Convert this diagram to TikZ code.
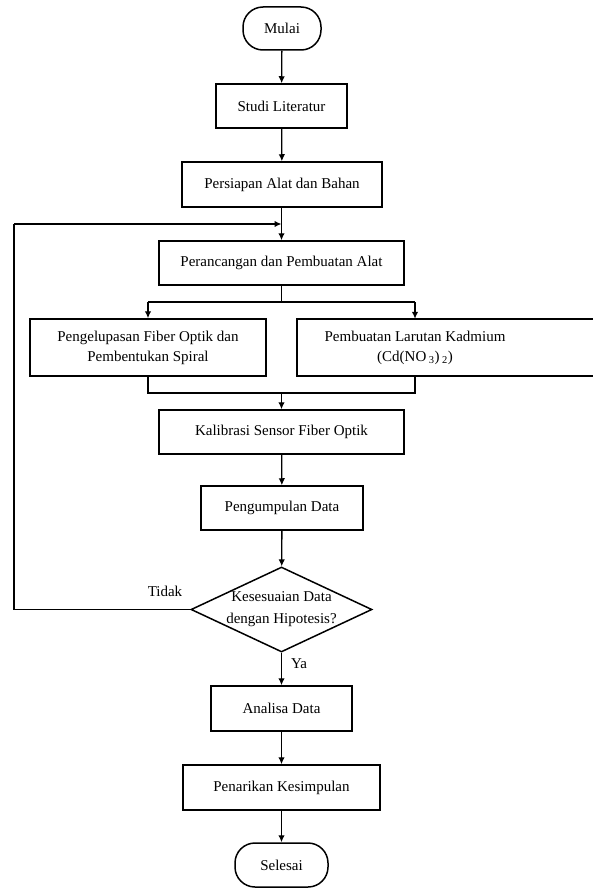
\documentclass[tikz,border=0pt]{standalone}
\usepackage{fontspec}
\setmainfont{Liberation Serif}
\usetikzlibrary{shapes.geometric,arrows.meta,positioning}
\begin{document}
\begin{tikzpicture}[x=1pt,y=-1pt,
  font=\fontsize{15}{20}\selectfont,
  box/.style={draw, line width=1.5pt, rectangle, inner sep=0pt, align=center},
  term/.style={draw, line width=1.5pt, rectangle, rounded corners=20pt, inner sep=0pt, align=center},
  dec/.style={draw, line width=1.5pt, diamond, shape aspect=2.13, inner sep=-1.5pt, align=center, minimum width=181pt, minimum height=85pt},
  conn/.style={line width=1.3pt},
  arr/.style={line width=1.3pt, -{Latex[length=7pt,width=6.5pt]}}
]
\useasboundingbox (0,0) rectangle (592,888);
\node[term, minimum width=78pt, minimum height=43pt] (mulai) at (282,28.5) {Mulai};
\node[box, minimum width=131pt, minimum height=44pt] (studi) at (281.5,106) {Studi Literatur};
\node[box, minimum width=200pt, minimum height=45pt] (persiapan) at (282,184.5) {Persiapan Alat dan Bahan};
\node[box, minimum width=245pt, minimum height=44pt] (rancang) at (281.5,263) {Perancangan dan Pembuatan Alat};
\node[box, minimum width=236pt, minimum height=57pt] (kupas) at (148,347.5) {Pengelupasan Fiber Optik dan\\Pembentukan Spiral};
\node[draw, line width=1.5pt, rectangle, inner sep=0pt, minimum width=303pt, minimum height=57pt] (kadbox) at (448.5,347.5) {};
\node[inner sep=0pt, minimum width=236pt, minimum height=57pt, align=center] (kadmium) at (415,347.5) {Pembuatan Larutan Kadmium\\(Cd(NO\,\textsubscript{3})\,\textsubscript{2})};
\node[box, minimum width=245pt, minimum height=44pt] (kalib) at (281.5,432) {Kalibrasi Sensor Fiber Optik};
\node[box, minimum width=162pt, minimum height=44pt] (kumpul) at (282,508) {Pengumpulan Data};
\node[dec, font=\fontsize{15}{22}\selectfont] (cek) at (281.5,609.5) {Kesesuaian Data\\dengan Hipotesis?};
\node[box, minimum width=141pt, minimum height=45pt] (analisa) at (281.5,708.5) {Analisa Data};
\node[box, minimum width=197pt, minimum height=45pt] (tarik) at (281.5,787.5) {Penarikan Kesimpulan};
\node[term, minimum width=93pt, minimum height=44pt] (selesai) at (281.5,865) {Selesai};

\coordinate (loopin) at (281.5,224);
\coordinate (loopL) at (14,224);
\coordinate (loopB) at (14,609.5);
\coordinate (split) at (281.5,302);
\coordinate (splitL) at (148,302);
\coordinate (splitR) at (415,302);
\coordinate (mergeL) at (148,393);
\coordinate (mergeR) at (415,393);
\coordinate (merge) at (281.5,393);

\draw[arr] (mulai) -- (studi);
\draw[arr] (studi) -- (persiapan);
\draw[arr] (persiapan.south -| rancang.north) -- (rancang.north);
\draw[conn] (cek.west) -- (loopB) -- (loopL);
\draw[arr] (loopL) -- (loopin);
\node (tidak) at (165,591) {Tidak};
\draw[conn] (rancang.south) -- (split);
\draw[conn] (splitL) -- (splitR);
\draw[arr] (splitL) -- (kupas.north);
\draw[arr] (splitR) -- (kadmium.north);
\draw[conn] (kupas.south) -- (mergeL) -- (mergeR) -- (kadmium.south);
\draw[arr] (merge) -- (kalib.north);
\draw[arr] (kalib) -- (kumpul);
\draw[arr] (kumpul) -- (cek);
\draw[arr] (cek) -- (analisa);
\node (ya) at (299,664) {Ya};
\draw[arr] (analisa) -- (tarik);
\draw[arr] (tarik) -- (selesai);
\end{tikzpicture}
\end{document}
